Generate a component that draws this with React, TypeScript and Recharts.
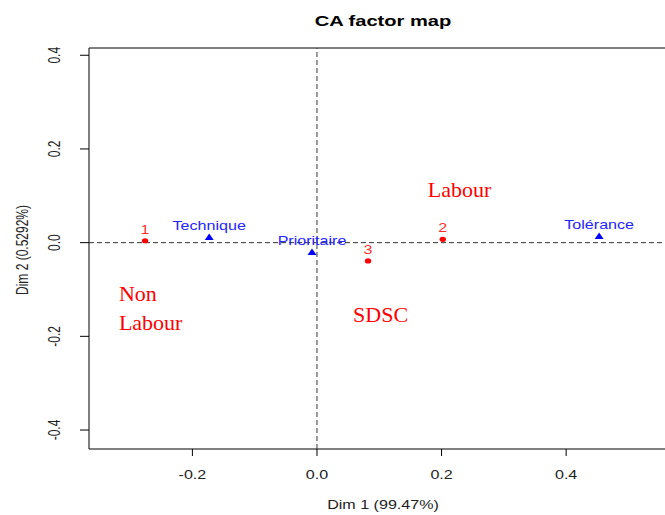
import React from "react";
import {
  ScatterChart,
  Scatter,
  XAxis,
  YAxis,
  ReferenceLine,
  ReferenceArea,
} from "recharts";

// row points (red)
const rowNames = ["1", "2", "3"];
const rowDim1 = [-0.276, 0.202, 0.082];
const rowDim2 = [0.004, 0.007, -0.039];

// column points (blue triangles)
const colNames = ["Technique", "Prioritaire", "Tolérance"];
const colDim1 = [-0.173, -0.008, 0.453];
const colDim2 = [0.012, -0.02, 0.014];

// hand-written annotations
const noteTexts = ["Labour", "Non", "Labour", "SDSC"];
const noteDim1 = [0.178, -0.318, -0.318, 0.058];
const noteDim2 = [0.097, -0.125, -0.187, -0.17];

const xTicks = [-0.2, 0, 0.2, 0.4];
const yTicks = [-0.4, -0.2, 0, 0.2, 0.4];
const xDomain: [number, number] = [-0.366, 0.578];
const yDomain: [number, number] = [-0.4405, 0.4155];

const SX = 1.34; // the original plot was stretched horizontally
const SANS = "'Liberation Sans', Arial, sans-serif";

const rows = rowNames.map((n, i) => ({ name: n, x: rowDim1[i], y: rowDim2[i] }));
const cols = colNames.map((n, i) => ({ name: n, x: colDim1[i], y: colDim2[i] }));
const notes = noteTexts.map((n, i) => ({ name: n, x: noteDim1[i], y: noteDim2[i] }));

const RowShape = (p: any) => (
  <g>
    <ellipse cx={p.cx} cy={p.cy} rx={3.2} ry={2.6} fill="#ff0000" />
    <text
      transform={`translate(${p.cx},${p.cy - 7}) scale(${SX},1)`}
      textAnchor="middle"
      fontSize={12}
      fontFamily={SANS}
      fill="#ff3030"
    >
      {p.payload.name}
    </text>
  </g>
);

const ColShape = (p: any) => (
  <g>
    <polygon
      points={`${p.cx},${p.cy - 3.5} ${p.cx + 4.5},${p.cy + 3} ${p.cx - 4.5},${p.cy + 3}`}
      fill="#0000ff"
    />
    <text
      transform={`translate(${p.cx},${p.cy - 7}) scale(${SX},1)`}
      textAnchor="middle"
      fontSize={12}
      fontFamily={SANS}
      fill="#2525ff"
    >
      {p.payload.name}
    </text>
  </g>
);

const NoteShape = (p: any) => (
  <text
    x={p.cx}
    y={p.cy}
    fontSize={22}
    fontFamily="'Liberation Serif', 'Times New Roman', serif"
    fill="#ff0000"
  >
    {p.payload.name}
  </text>
);

const fmt = (v: number) => v.toFixed(1);

const XTick = (p: any) => (
  <text
    transform={`translate(${p.x},${p.y + 21}) scale(${SX},1)`}
    textAnchor="middle"
    fontSize={12}
    fontFamily={SANS}
    fill="#222"
  >
    {fmt(p.payload.value)}
  </text>
);

const YTick = (p: any) => (
  <text
    transform={`translate(${p.x - 18},${p.y}) scale(${SX},1) rotate(-90)`}
    textAnchor="middle"
    fontSize={12}
    fontFamily={SANS}
    fill="#222"
  >
    {fmt(p.payload.value)}
  </text>
);

export default function App() {
  return (
    <div
      style={{
        position: "absolute",
        left: 0,
        top: 0,
        width: 665,
        height: 515,
        overflow: "hidden",
        background: "#fff",
      }}
    >
      <ScatterChart
        width={700}
        height={515}
        margin={{ top: 48, right: 23, bottom: 36, left: 29 }}
      >
        <XAxis
          type="number"
          dataKey="x"
          domain={xDomain}
          ticks={xTicks}
          allowDataOverflow
          axisLine={false}
          tickLine={{ stroke: "#000" }}
          tickSize={7}
          height={30}
          tick={<XTick />}
        />
        <YAxis
          type="number"
          dataKey="y"
          domain={yDomain}
          ticks={yTicks}
          allowDataOverflow
          axisLine={false}
          tickLine={{ stroke: "#000" }}
          tickSize={9}
          width={60}
          tick={<YTick />}
        />
        <ReferenceArea
          x1={xDomain[0]}
          x2={xDomain[1]}
          y1={yDomain[0]}
          y2={yDomain[1]}
          fill="none"
          fillOpacity={0}
          stroke="#000"
          strokeWidth={1}
          ifOverflow="visible"
        />
        <ReferenceLine x={0} stroke="#333" strokeDasharray="5 3" />
        <ReferenceLine y={0} stroke="#333" strokeDasharray="5 3" />
        <Scatter data={rows} shape={RowShape} isAnimationActive={false} />
        <Scatter data={cols} shape={ColShape} isAnimationActive={false} />
        <Scatter data={notes} shape={NoteShape} isAnimationActive={false} />
      </ScatterChart>
      <div
        style={{
          position: "absolute",
          left: 383,
          top: 13,
          fontFamily: SANS,
          fontWeight: "bold",
          fontSize: 15,
          lineHeight: "15px",
          whiteSpace: "nowrap",
          color: "#000",
          transform: `translateX(-50%) scaleX(${SX})`,
        }}
      >
        CA factor map
      </div>
      <div
        style={{
          position: "absolute",
          left: 383,
          top: 499,
          fontFamily: SANS,
          fontSize: 12,
          lineHeight: "12px",
          whiteSpace: "nowrap",
          color: "#222",
          transform: `translateX(-50%) scaleX(${SX})`,
        }}
      >
        Dim 1 (99.47%)
      </div>
      <div
        style={{
          position: "absolute",
          left: 23,
          top: 250,
          fontFamily: SANS,
          fontSize: 12,
          lineHeight: "12px",
          whiteSpace: "nowrap",
          color: "#222",
          transform: `translate(-50%,-50%) scaleX(${SX}) rotate(-90deg)`,
        }}
      >
        Dim 2 (0.5292%)
      </div>
    </div>
  );
}
